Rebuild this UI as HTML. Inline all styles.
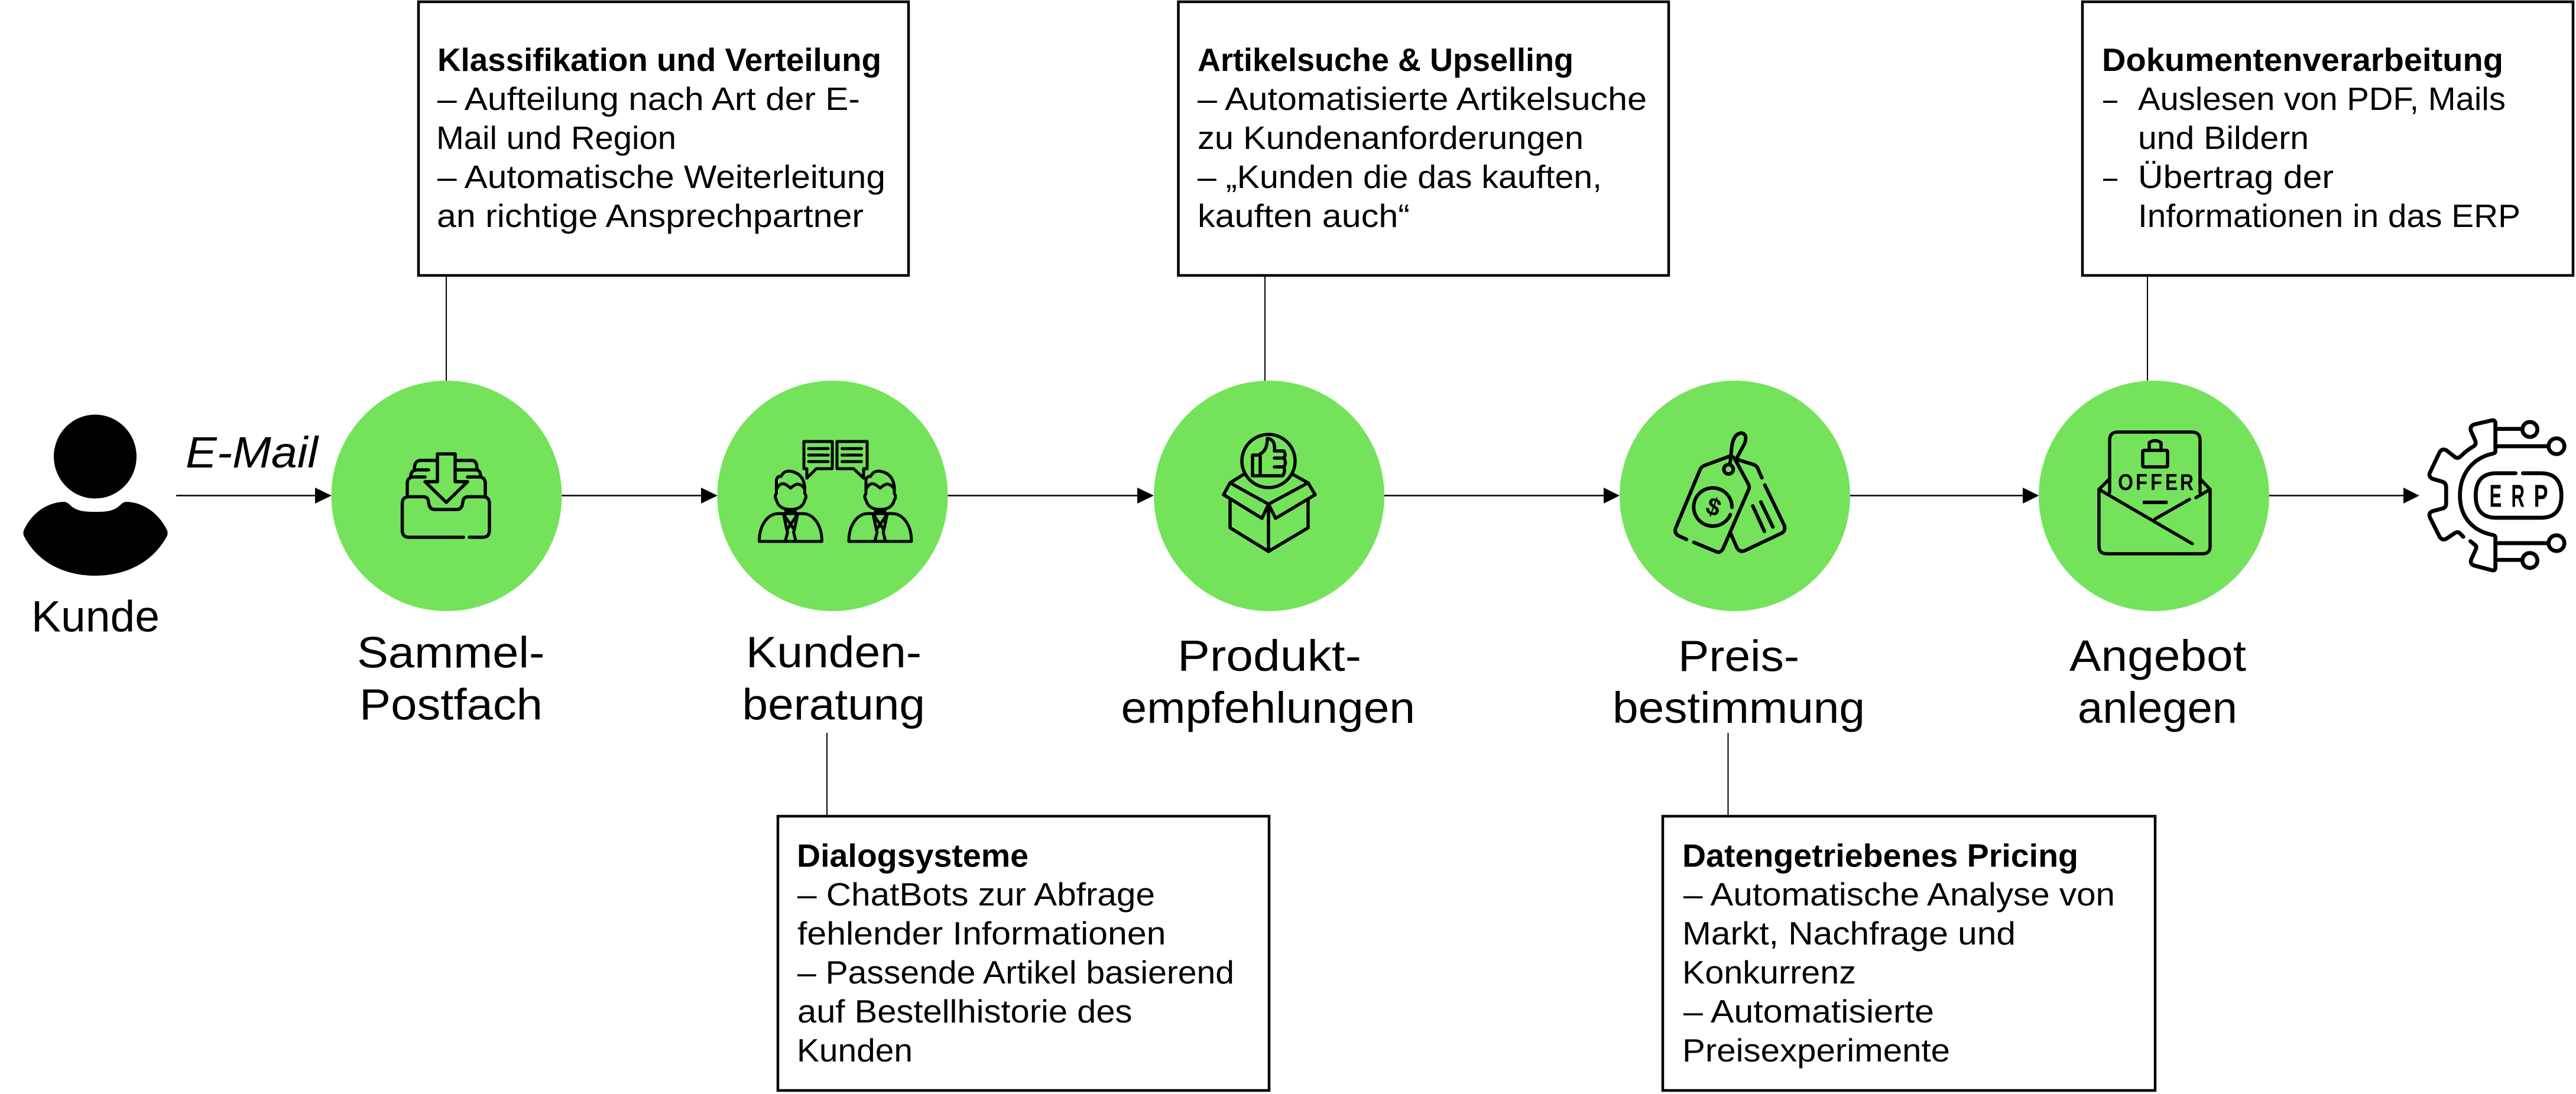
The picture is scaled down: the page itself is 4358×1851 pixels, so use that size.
<!DOCTYPE html>
<html lang="de">
<head>
<meta charset="utf-8">
<title>Prozess</title>
<style>
html,body{margin:0;padding:0;background:#fff;}
svg{display:block;}
text{font-family:"Liberation Sans",sans-serif;fill:#000;}
.b{font-size:55px;}
.t{font-size:55px;font-weight:700;}
.l{font-size:74px;}
.i{fill:none;stroke:#000;stroke-width:5.5;stroke-linecap:round;stroke-linejoin:round;}
.bx{fill:#fff;stroke:#000;stroke-width:4.5;}
.cn{stroke:#000;stroke-width:2;fill:none;}
.ar{stroke:#000;stroke-width:2.5;fill:none;}
</style>
</head>
<body>
<svg xmlns="http://www.w3.org/2000/svg" width="4358" height="1851" viewBox="0 0 4358 1851">
<rect width="4358" height="1851" fill="#fff"/>

<!-- connectors -->
<line class="cn" x1="755" y1="466" x2="755" y2="644"/>
<line class="cn" x1="2140" y1="466" x2="2140" y2="644"/>
<line class="cn" x1="3633" y1="466" x2="3633" y2="644"/>
<line class="cn" x1="1399" y1="1240" x2="1399" y2="1381"/>
<line class="cn" x1="2923.5" y1="1240" x2="2923.5" y2="1381"/>

<!-- arrows -->
<g>
<line class="ar" x1="298" y1="838.5" x2="535" y2="838.5"/><polygon points="533,825 561,838.5 533,852"/>
<line class="ar" x1="950" y1="838.5" x2="1188" y2="838.5"/><polygon points="1186,825 1214,838.5 1186,852"/>
<line class="ar" x1="1603" y1="838.5" x2="1926" y2="838.5"/><polygon points="1924,825 1952,838.5 1924,852"/>
<line class="ar" x1="2342" y1="838.5" x2="2715" y2="838.5"/><polygon points="2713,825 2740,838.5 2713,852"/>
<line class="ar" x1="3130" y1="838.5" x2="3424" y2="838.5"/><polygon points="3422,825 3449.5,838.5 3422,852"/>
<line class="ar" x1="3838" y1="838.5" x2="4068" y2="838.5"/><polygon points="4066,825 4093,838.5 4066,852"/>
</g>

<!-- green circles -->
<g fill="#74e35b">
<circle cx="755.5" cy="839" r="195"/>
<circle cx="1408.5" cy="839" r="195"/>
<circle cx="2147" cy="839" r="195"/>
<circle cx="2935" cy="839" r="195"/>
<circle cx="3644" cy="839" r="195"/>
</g>

<!-- person -->
<ellipse cx="161" cy="772.5" rx="70" ry="71"/>
<path d="M40,898 C52,870 78,850 108,849 Q113,849 118,854 C130,866 145,866 161,866 C177,866 192,866 204,854 Q209,849 214,849 C244,850 270,870 283,898 Q284,902 283,906 C260,950 215,974 161,974 C107,974 62,950 40,906 Q39,902 40,898Z"/>

<!-- inbox icon -->
<g class="i">
<path d="M784,909 H692 Q680.5,909 680.5,897 V852 Q680.5,840.5 692,840.5 H717 Q724,841 725,849 Q726,862 735,862 H773 Q782,862 783,849 Q784,841 791,840.5 H817 Q828,840.5 828,852 V897 Q828,909 817,909 H794"/>
<path d="M689,840 V818 Q689,807 700,807 H719 M791,807 H810 Q821,807 821,818 V840"/>
<path d="M695,806 Q695,795 706,795 H725 M770,795 H805 Q813,795 813,806"/>
<path d="M701,794 Q701,779 712,779 H740 M770,779 H798 Q807,779 807,794"/>
<path d="M740,768 H770 V815 H791 L755,850 L719,815 H740Z"/>
</g>

<!-- people icon -->
<g class="i" style="stroke-width:5">
<path d="M1360,747 H1408 V793 H1381 L1365,809 V793 H1360Z"/>
<path d="M1416,747 H1467 V793 H1461 V809 L1444,793 H1416Z"/>
<path d="M1368,759 H1401 M1368,770 H1401 M1368,781 H1401 M1424.5,759 H1457.5 M1424.5,770 H1457.5 M1424.5,781 H1457.5"/>
<g transform="translate(1337.5 0)">
<path d="M-24,835 L-24,812 Q-22,805 -16,806 Q-12,797 -2,797 Q22,800 24,825 L24,835 Q28,840 24,846 Q20,862 0,862 Q-20,862 -24,846 Q-28,840 -24,835Z"/>
<path d="M-24,828 Q-18,816 -10,819 Q-4,822 0,826 Q6,820 12,819 Q20,820 24,828"/>
<path d="M-8,862 V870 M8,862 V870 M-8,866 H8"/>
<path d="M-53,916 C-53,890 -40,869 -20,869 H20 C40,869 53,890 53,916 Z"/>
<path d="M-12,870 L6,896 M12,870 L-6,896 M-12,870 L-6,898 M12,870 L6,898 M-5,900 L-9,916 M5,900 L9,916"/>
</g>
<g transform="translate(1489 0)">
<path d="M-24,835 L-24,812 Q-22,805 -16,806 Q-12,797 -2,797 Q22,800 24,825 L24,835 Q28,840 24,846 Q20,862 0,862 Q-20,862 -24,846 Q-28,840 -24,835Z"/>
<path d="M-24,828 Q-18,816 -10,819 Q-4,822 0,826 Q6,820 12,819 Q20,820 24,828"/>
<path d="M-8,862 V870 M8,862 V870 M-8,866 H8"/>
<path d="M-53,916 C-53,890 -40,869 -20,869 H20 C40,869 53,890 53,916 Z"/>
<path d="M-12,870 L6,896 M12,870 L-6,896 M-12,870 L-6,898 M12,870 L6,898 M-5,900 L-9,916 M5,900 L9,916"/>
</g>
</g>

<!-- box with thumb icon -->
<g class="i">
<circle cx="2146" cy="780" r="45"/>
<path d="M2081,847 V893 L2146,933 L2213,893 V847"/>
<path d="M2146,853 V933"/>
<path d="M2081,817 L2070,837 L2135,877 L2146,853 L2081,817 M2213,817 L2225,837 L2158,877 L2146,853 L2213,817"/>
<path d="M2081,817 L2105,802 M2213,817 L2186,802"/>
<rect x="2119" y="770" width="13" height="35"/>
<path d="M2132,768 Q2144,762 2144,742 Q2158,743 2156,763 H2172 Q2176,770 2172,775 Q2177,783 2172,790 Q2175,798 2170,805 H2132"/>
<path d="M2156,775 H2172 M2156,790 H2172"/>
</g>

<!-- price tags icon -->
<g transform="translate(2820 720) scale(.33333)">
<g class="i" style="stroke-width:18">
<path d="M100,578 L60,560 Q35,545 45,520 L170,220 Q175,210 190,203 L320,155 Q335,155 345,170 L415,300 Q420,315 415,325 L285,625 Q270,650 250,640 L137,593"/>
<circle cx="313" cy="222" r="24"/>
<path d="M320,200 L328,120 Q335,40 380,38 Q410,45 395,90 L355,165"/>
<path d="M355,172 L440,198 Q455,205 460,215 L482,265 M497,302 L595,505 Q605,530 585,545 L395,635 Q370,645 355,620 L325,550"/>
<path d="M436,408 L495,537 M477,388 L538,515"/>
<path d="M330,415 A97,97 0 1 0 322,452"/>
</g>
<text x="237" y="455" font-size="125" font-weight="700" text-anchor="middle" transform="rotate(20 237 412)">$</text>
</g>

<!-- offer icon -->
<g class="i">
<path d="M3569,810 V745 Q3569,731 3583,731 H3708 Q3722,731 3722,745 V833"/>
<path d="M3569,810 L3551,828 V925 Q3551,937 3565,937 H3725 Q3739,937 3739,925 V828 L3722,810"/>
<path d="M3551,828 L3709,920 M3646,878 L3704,845 M3715,842 L3739,828"/>
<path d="M3569,833 V810"/>
<rect x="3625" y="762" width="42" height="28" rx="2"/>
<path d="M3636,762 V749 Q3646,742 3656,749 V762"/>
</g>
<rect x="3625" y="847" width="42" height="6" fill="#000"/>
<g font-size="39" font-weight="700">
<text x="3583" y="829" textLength="26" lengthAdjust="spacingAndGlyphs">O</text>
<text x="3613" y="829" textLength="20" lengthAdjust="spacingAndGlyphs">F</text>
<text x="3638" y="829" textLength="20" lengthAdjust="spacingAndGlyphs">F</text>
<text x="3663" y="829" textLength="21" lengthAdjust="spacingAndGlyphs">E</text>
<text x="3688" y="829" textLength="23" lengthAdjust="spacingAndGlyphs">R</text>
</g>

<!-- ERP icon -->
<g transform="translate(4090 695) scale(.33333)">
<g class="i" style="stroke-width:20">
<path d="M232,640 L215,622 Q205,612 190,620 L145,650 Q125,660 112,640 L62,540 Q55,518 75,510 L130,495 Q145,490 145,470 V390 Q145,365 125,360 L75,345 Q55,335 62,315 L112,210 Q125,190 145,200 L190,235 Q205,245 220,230 Q250,200 285,180 Q300,170 292,150 L270,100 Q265,80 285,70 L380,48 Q395,48 395,65 V205 Q395,215 380,218 C280,240 215,320 215,430 C215,540 280,610 380,630 Q395,632 395,645 V795 Q395,812 380,810 L285,785 Q265,775 272,755 L295,705 Q302,688 290,680 L268,662"/>
<path d="M497,317 H400 Q295,317 295,430 Q295,543 400,543 H625 Q730,543 730,430 Q730,317 625,317 H535"/>
<path d="M395,92 H525 M395,180 H660 M395,672 H660 M395,757 H525"/>
<circle cx="570" cy="95" r="38"/>
<circle cx="705" cy="180" r="40"/>
<circle cx="705" cy="672" r="40"/>
<circle cx="570" cy="760" r="38"/>
</g>
<g font-size="160" font-weight="700">
<text x="365" y="487" textLength="62" lengthAdjust="spacingAndGlyphs">E</text>
<text x="475" y="487" textLength="68" lengthAdjust="spacingAndGlyphs">R</text>
<text x="590" y="487" textLength="72" lengthAdjust="spacingAndGlyphs">P</text>
</g>
</g>

<!-- labels -->
<text class="l" x="314" y="791" font-style="italic" textLength="224" lengthAdjust="spacingAndGlyphs">E-Mail</text>
<text class="l" x="53" y="1068.5" textLength="217" lengthAdjust="spacingAndGlyphs">Kunde</text>
<text class="l" x="604" y="1129.5" textLength="317.5" lengthAdjust="spacingAndGlyphs">Sammel-</text>
<text class="l" x="608" y="1217.5" textLength="310" lengthAdjust="spacingAndGlyphs">Postfach</text>
<text class="l" x="1262" y="1129" textLength="297" lengthAdjust="spacingAndGlyphs">Kunden-</text>
<text class="l" x="1255.5" y="1217.5" textLength="309.5" lengthAdjust="spacingAndGlyphs">beratung</text>
<text class="l" x="1992" y="1135" textLength="311" lengthAdjust="spacingAndGlyphs">Produkt-</text>
<text class="l" x="1896.5" y="1223" textLength="497.5" lengthAdjust="spacingAndGlyphs">empfehlungen</text>
<text class="l" x="2839" y="1135.5" textLength="205" lengthAdjust="spacingAndGlyphs">Preis-</text>
<text class="l" x="2728" y="1223" textLength="427" lengthAdjust="spacingAndGlyphs">bestimmung</text>
<text class="l" x="3501" y="1135" textLength="299" lengthAdjust="spacingAndGlyphs">Angebot</text>
<text class="l" x="3515" y="1223" textLength="270" lengthAdjust="spacingAndGlyphs">anlegen</text>

<!-- box 1 -->
<rect class="bx" x="708" y="3" width="829" height="463"/>
<text class="t" x="740" y="120" textLength="751" lengthAdjust="spacingAndGlyphs">Klassifikation und Verteilung</text>
<text class="b" x="740" y="186" textLength="715" lengthAdjust="spacingAndGlyphs">– Aufteilung nach Art der E-</text>
<text class="b" x="738" y="252" textLength="406" lengthAdjust="spacingAndGlyphs">Mail und Region</text>
<text class="b" x="740" y="318" textLength="758" lengthAdjust="spacingAndGlyphs">– Automatische Weiterleitung</text>
<text class="b" x="739" y="384" textLength="722" lengthAdjust="spacingAndGlyphs">an richtige Ansprechpartner</text>

<!-- box 3 -->
<rect class="bx" x="1993.5" y="3" width="829.5" height="463"/>
<text class="t" x="2026" y="120" textLength="636" lengthAdjust="spacingAndGlyphs">Artikelsuche &amp; Upselling</text>
<text class="b" x="2026" y="186" textLength="760" lengthAdjust="spacingAndGlyphs">– Automatisierte Artikelsuche</text>
<text class="b" x="2026" y="252" textLength="653" lengthAdjust="spacingAndGlyphs">zu Kundenanforderungen</text>
<text class="b" x="2026" y="318" textLength="684" lengthAdjust="spacingAndGlyphs">– „Kunden die das kauften,</text>
<text class="b" x="2026" y="384" textLength="359" lengthAdjust="spacingAndGlyphs">kauften auch“</text>

<!-- box 5 -->
<rect class="bx" x="3523" y="3" width="830" height="463"/>
<text class="t" x="3556" y="120" textLength="679" lengthAdjust="spacingAndGlyphs">Dokumentenverarbeitung</text>
<text class="b" x="3558" y="186" textLength="24" lengthAdjust="spacingAndGlyphs">–</text>
<text class="b" x="3617" y="186" textLength="622" lengthAdjust="spacingAndGlyphs">Auslesen von PDF, Mails</text>
<text class="b" x="3617" y="252" textLength="289" lengthAdjust="spacingAndGlyphs">und Bildern</text>
<text class="b" x="3558" y="318" textLength="24" lengthAdjust="spacingAndGlyphs">–</text>
<text class="b" x="3617" y="318" textLength="331" lengthAdjust="spacingAndGlyphs">Übertrag der</text>
<text class="b" x="3617" y="384" textLength="647" lengthAdjust="spacingAndGlyphs">Informationen in das ERP</text>

<!-- box 2 -->
<rect class="bx" x="1316" y="1381" width="831" height="464"/>
<text class="t" x="1348" y="1466.5" textLength="392" lengthAdjust="spacingAndGlyphs">Dialogsysteme</text>
<text class="b" x="1349" y="1532" textLength="605" lengthAdjust="spacingAndGlyphs">– ChatBots zur Abfrage</text>
<text class="b" x="1349" y="1598" textLength="623.5" lengthAdjust="spacingAndGlyphs">fehlender Informationen</text>
<text class="b" x="1349" y="1664" textLength="739" lengthAdjust="spacingAndGlyphs">– Passende Artikel basierend</text>
<text class="b" x="1349" y="1730" textLength="566.5" lengthAdjust="spacingAndGlyphs">auf Bestellhistorie des</text>
<text class="b" x="1348" y="1796" textLength="196" lengthAdjust="spacingAndGlyphs">Kunden</text>

<!-- box 4 -->
<rect class="bx" x="2813" y="1381" width="833" height="464"/>
<text class="t" x="2846" y="1466.5" textLength="670" lengthAdjust="spacingAndGlyphs">Datengetriebenes Pricing</text>
<text class="b" x="2848" y="1532" textLength="730" lengthAdjust="spacingAndGlyphs">– Automatische Analyse von</text>
<text class="b" x="2846" y="1598" textLength="564" lengthAdjust="spacingAndGlyphs">Markt, Nachfrage und</text>
<text class="b" x="2846" y="1664" textLength="294" lengthAdjust="spacingAndGlyphs">Konkurrenz</text>
<text class="b" x="2848" y="1730" textLength="424" lengthAdjust="spacingAndGlyphs">– Automatisierte</text>
<text class="b" x="2846" y="1796" textLength="453" lengthAdjust="spacingAndGlyphs">Preisexperimente</text>
</svg>
</body>
</html>
